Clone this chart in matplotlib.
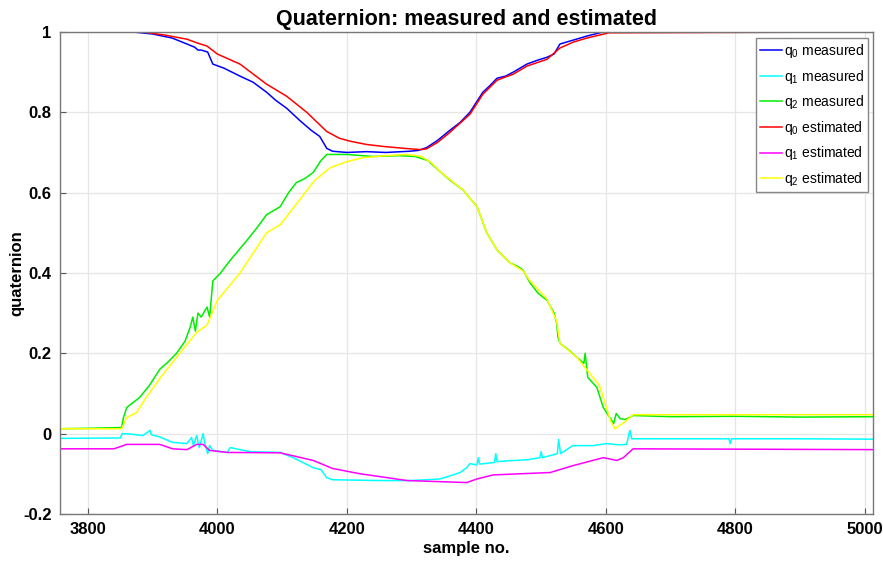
import numpy as np
import matplotlib
matplotlib.use("Agg")
import matplotlib.pyplot as plt

plt.rcParams['font.family'] = ['Liberation Sans', 'DejaVu Sans']

# q0 measured / estimated
q0m_x = [3757, 3870, 3900, 3930, 3953, 3965, 3970, 3975, 3985, 3993, 4010, 4035, 4055, 4076, 4090,
         4107, 4127, 4145, 4158, 4169, 4178, 4200, 4230, 4260, 4297, 4310, 4323, 4340, 4359, 4375,
         4390, 4410, 4420, 4432, 4445, 4457, 4478, 4495, 4509, 4520, 4529, 4550, 4571, 4596, 5013]
q0m_y = [1.0, 1.0, 0.995, 0.985, 0.97, 0.962, 0.955, 0.955, 0.95, 0.92, 0.91, 0.89, 0.875, 0.85, 0.83,
         0.81, 0.78, 0.755, 0.74, 0.71, 0.703, 0.70, 0.702, 0.700, 0.703, 0.705, 0.712, 0.73, 0.755, 0.775,
         0.80, 0.85, 0.865, 0.885, 0.89, 0.90, 0.92, 0.93, 0.937, 0.945, 0.97, 0.98, 0.99, 1.0, 1.0]

q0e_x = [3757, 3885, 3920, 3953, 3970, 3984, 4000, 4035, 4076, 4107, 4138, 4169, 4189, 4205, 4230, 4256,
         4290, 4315, 4323, 4340, 4359, 4390, 4410, 4432, 4457, 4478, 4509, 4529, 4550, 4571, 4605, 5013]
q0e_y = [1.0, 1.0, 0.992, 0.982, 0.972, 0.965, 0.945, 0.92, 0.87, 0.84, 0.80, 0.752, 0.735, 0.728, 0.72, 0.715,
         0.71, 0.707, 0.709, 0.725, 0.75, 0.795, 0.845, 0.88, 0.895, 0.915, 0.932, 0.96, 0.975, 0.985, 0.998, 1.0]

# q1 measured / estimated
q1m_x = [3757, 3850, 3853, 3870, 3885, 3896, 3898, 3910, 3931, 3953, 3960, 3963, 3968, 3972, 3978, 3980,
         3985, 3988, 3993, 4015, 4020, 4050, 4097, 4117, 4148, 4160, 4169, 4178, 4250, 4300, 4344, 4360,
         4375, 4385, 4390, 4401, 4403, 4405, 4428, 4430, 4432, 4447, 4480, 4498, 4500, 4502, 4525, 4527,
         4530, 4549, 4580, 4601, 4620, 4632, 4637, 4640, 4700, 4790, 4792, 4794, 4900, 5013]
q1m_y = [-0.012, -0.011, 0.0, -0.002, -0.005, 0.008, -0.003, -0.008, -0.022, -0.025, -0.01, -0.03, -0.005,
         -0.035, 0.0, -0.02, -0.05, -0.03, -0.042, -0.047, -0.035, -0.045, -0.047, -0.06, -0.085, -0.09,
         -0.11, -0.115, -0.117, -0.117, -0.113, -0.105, -0.097, -0.085, -0.075, -0.078, -0.06, -0.076,
         -0.072, -0.05, -0.07, -0.068, -0.065, -0.06, -0.045, -0.06, -0.05, -0.015, -0.05, -0.03, -0.03,
         -0.025, -0.028, -0.027, 0.008, -0.013, -0.013, -0.013, -0.025, -0.013, -0.013, -0.014]

q1e_x = [3757, 3840, 3860, 3911, 3931, 3953, 3968, 3978, 3988, 4015, 4097, 4148, 4178, 4220, 4293, 4385,
         4401, 4426, 4514, 4549, 4596, 4617, 4627, 4642, 5013]
q1e_y = [-0.038, -0.038, -0.027, -0.027, -0.038, -0.04, -0.027, -0.027, -0.042, -0.047, -0.048, -0.067,
         -0.087, -0.1, -0.117, -0.122, -0.113, -0.103, -0.097, -0.08, -0.06, -0.067, -0.06, -0.038, -0.04]

# q2 measured / estimated
q2m_x = [3757, 3800, 3852, 3855, 3860, 3880, 3895, 3911, 3925, 3937, 3950, 3958, 3962, 3966, 3970, 3975,
         3984, 3988, 3993, 4005, 4019, 4032, 4045, 4060, 4076, 4097, 4110, 4122, 4135, 4148, 4160, 4169,
         4200, 4240, 4280, 4305, 4325, 4344, 4360, 4379, 4401, 4416, 4432, 4452, 4465, 4472, 4483, 4495,
         4509, 4520, 4524, 4526, 4529, 4545, 4555, 4566, 4568, 4572, 4586, 4596, 4606, 4612, 4616, 4622,
         4630, 4642, 4700, 4800, 4900, 5013]
q2m_y = [0.012, 0.013, 0.015, 0.04, 0.065, 0.09, 0.12, 0.16, 0.18, 0.20, 0.23, 0.265, 0.29, 0.255, 0.30,
         0.29, 0.315, 0.29, 0.38, 0.40, 0.43, 0.455, 0.48, 0.51, 0.545, 0.565, 0.60, 0.625, 0.635, 0.65,
         0.68, 0.695, 0.695, 0.69, 0.692, 0.69, 0.68, 0.652, 0.63, 0.607, 0.565, 0.50, 0.457, 0.425, 0.415,
         0.407, 0.375, 0.35, 0.332, 0.30, 0.275, 0.24, 0.225, 0.205, 0.19, 0.175, 0.2, 0.14, 0.115, 0.065,
         0.04, 0.025, 0.05, 0.037, 0.035, 0.045, 0.042, 0.043, 0.041, 0.042]

q2e_x = [3757, 3852, 3860, 3875, 3890, 3911, 3937, 3968, 3984, 4000, 4035, 4076, 4097, 4127, 4150, 4174,
         4200, 4225, 4260, 4293, 4315, 4330, 4344, 4379, 4401, 4416, 4432, 4452, 4472, 4483, 4509, 4524,
         4529, 4555, 4575, 4590, 4600, 4607, 4614, 4630, 4642, 5013]
q2e_y = [0.012, 0.012, 0.04, 0.052, 0.09, 0.137, 0.19, 0.252, 0.27, 0.332, 0.40, 0.50, 0.52, 0.582, 0.63,
         0.662, 0.677, 0.687, 0.692, 0.695, 0.69, 0.675, 0.652, 0.607, 0.565, 0.50, 0.457, 0.425, 0.405,
         0.38, 0.335, 0.28, 0.225, 0.19, 0.15, 0.12, 0.07, 0.032, 0.012, 0.03, 0.047, 0.047]

x_ticks = [3800, 4000, 4200, 4400, 4600, 4800, 5000]
y_ticks = [-0.2, 0, 0.2, 0.4, 0.6, 0.8, 1]
y_ticklabels = ['-0.2', '0', '0.2', '0.4', '0.6', '0.8', '1']

fig = plt.figure(figsize=(8.83, 5.61), dpi=100)
ax = fig.add_axes([0.068, 0.084, 0.921, 0.859])

ax.plot(q0m_x, q0m_y, color='#0000ff', lw=1.1, label='$\\mathregular{q_0}$ measured')
ax.plot(q1m_x, q1m_y, color='#00ffff', lw=1.1, label='$\\mathregular{q_1}$ measured')
ax.plot(q2m_x, q2m_y, color='#00ee00', lw=1.1, label='$\\mathregular{q_2}$ measured')
ax.plot(q0e_x, q0e_y, color='#ff0000', lw=1.1, label='$\\mathregular{q_0}$ estimated')
ax.plot(q1e_x, q1e_y, color='#ff00ff', lw=1.1, label='$\\mathregular{q_1}$ estimated')
ax.plot(q2e_x, q2e_y, color='#ffff00', lw=1.1, label='$\\mathregular{q_2}$ estimated')

ax.set_xlim(3757, 5013)
ax.set_ylim(-0.2, 1)
ax.set_xticks(x_ticks)
ax.set_yticks(y_ticks)
ax.set_yticklabels(y_ticklabels)
ax.tick_params(direction='in', length=4, color='#555555', labelsize=12, pad=6)
for lab in ax.get_xticklabels() + ax.get_yticklabels():
    lab.set_fontweight('bold')
ax.grid(True, color='#e6e6e6', lw=0.9)
ax.set_axisbelow(True)
for s in ax.spines.values():
    s.set_color('#777777')
    s.set_linewidth(1.0)

ax.set_xlabel('sample no.', fontsize=12, fontweight='bold', labelpad=3)
ax.set_ylabel('quaternion', fontsize=12, fontweight='bold', labelpad=-1)
ax.set_title('Quaternion: measured and estimated', fontsize=15.5, fontweight='bold', pad=5)

ax.legend(loc='upper right', fontsize=10, handlelength=1.6, handletextpad=0.1,
          labelspacing=0.55, borderpad=0.3, borderaxespad=0, fancybox=False, framealpha=1,
          edgecolor='#888888', bbox_to_anchor=(0.994, 0.988))

fig.savefig('out.png', dpi=100)
